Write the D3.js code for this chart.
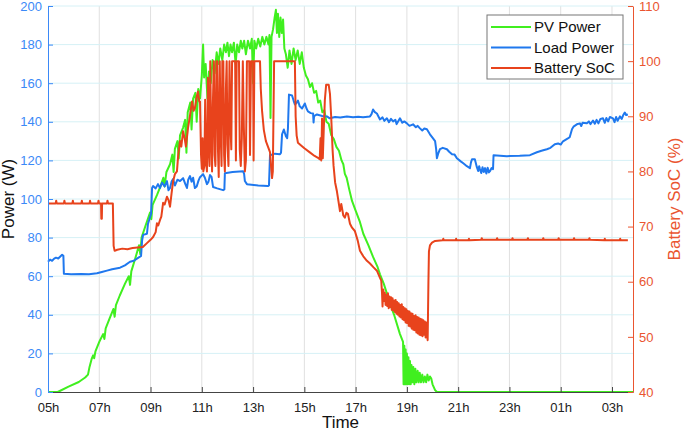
<!DOCTYPE html>
<html>
<head>
<meta charset="utf-8">
<script src="https://cdn.jsdelivr.net/npm/d3@7"></script>
<style>
  body { margin: 0; background: #fff; }
  svg { font-family: 'Liberation Sans', Arial, sans-serif; }
</style>
</head>
<body>
<div id="chart"></div>
<script>
// time is in hours from midnight, past 24 = next morning
const hourTicks = [5, 7, 9, 11, 13, 15, 17, 19, 21, 23, 25, 27]
const powerTicks = [0, 20, 40, 60, 80, 100, 120, 140, 160, 180, 200]
const socTicks = [40, 50, 60, 70, 80, 90, 100, 110]

const pvPower = [
  [5.0,0],[5.38,0],[5.8,2.8],[6.2,5.2],[6.45,7.5],[6.56,9],[6.62,13],[6.7,17],[6.76,19],[6.8,17.5],[6.85,21],
  [7.0,26],[7.15,30],[7.2,27.5],[7.25,33],[7.4,38],[7.55,43],[7.6,39],[7.65,45],[7.8,50],[8.0,56],[8.15,60],
  [8.2,55.5],[8.25,62.5],[8.4,69],[8.55,76],[8.6,71.5],[8.65,80],[8.8,86],[8.98,93],[9.03,89.5],[9.08,97],
  [9.25,102],[9.37,106],[9.5,111],[9.55,106.5],[9.62,114],[9.76,118],[9.85,123],[9.9,114],[9.95,126],[10.05,130],
  [10.1,121],[10.15,133],[10.27,137],[10.35,141],[10.4,124],[10.45,145],[10.55,150],[10.6,136],[10.66,152],
  [10.75,155],[10.8,140],[10.86,157],[10.93,152],[11.0,164],[11.05,180],[11.09,163],[11.15,170],[11.22,152],
  [11.28,166],[11.35,160],[11.42,172],[11.5,165],[11.58,176],[11.65,170],[11.72,178],[11.8,172],[11.87,180],
  [11.94,176],[12.0,181],[12.06,174],[12.12,180],[12.18,176],[12.25,181],[12.32,170],[12.38,180],[12.45,176],
  [12.52,182],[12.58,178],[12.65,182],[12.72,175],[12.8,182],[12.88,178],[12.95,183],[13.0,160],[13.05,182],
  [13.12,178],[13.2,183],[13.28,179],[13.36,184],[13.44,180],[13.52,184],[13.6,180],[13.64,185],[13.68,142],
  [13.72,184],[13.78,188],[13.84,194],[13.89,198],[13.93,186],[13.97,196],[14.02,184],[14.07,194],[14.12,186],
  [14.17,193],[14.22,178],[14.28,175],[14.35,168],[14.42,177],[14.5,170],[14.58,178],[14.66,172],[14.74,177],
  [14.82,170],[14.9,176],[14.98,168],[15.06,164],[15.14,162],[15.22,158],[15.3,160],[15.38,155],[15.46,156],
  [15.54,150],[15.62,151],[15.7,145],[15.78,146],[15.86,140],[15.95,139],[16.05,133],[16.15,131],[16.25,127],
  [16.35,125],[16.45,120],[16.52,118],[16.58,113],[16.65,111],[16.75,105],[16.86,99],[17.0,94],[17.17,88],
  [17.3,82],[17.5,76],[17.68,70],[17.85,65],[17.95,61],[18.1,56],[18.34,46],[18.5,40],[18.73,30],[18.85,26],
  [18.87,4],[18.9,24],[18.92,4],[18.95,22],[18.97,4],[19.0,20],[19.03,4],[19.06,18],[19.09,4],[19.12,16],
  [19.15,4],[19.18,14],[19.21,5],[19.25,13],[19.29,4],[19.33,12],[19.37,5],[19.42,11],[19.46,5],[19.5,10],
  [19.55,5],[19.6,9],[19.65,5],[19.7,8],[19.75,5],[19.8,9],[19.85,6],[19.9,8],[19.95,7],[20.0,4],[20.1,1],
  [20.17,0],[27.82,0]
]

const loadPower = [
  [5.0,67.5],[5.08,68.6],[5.16,68],[5.24,69.1],[5.31,69.6],[5.4,69.2],[5.47,70.1],[5.55,71.1],[5.6,70.6],
  [5.62,61.3],[5.9,61],[6.3,61.2],[6.6,61],[6.91,61.5],[7.1,62.2],[7.3,62.9],[7.5,63.6],[7.81,64.4],[8.0,65.6],
  [8.2,67.5],[8.35,68],[8.47,69.1],[8.59,70.1],[8.63,70.5],[8.67,78.4],[8.71,81.4],[8.86,82],[8.9,87.1],
  [8.98,90.7],[9.02,92.3],[9.06,105.7],[9.1,106.7],[9.2,105.5],[9.29,107.7],[9.37,105.7],[9.45,108.5],
  [9.55,106.5],[9.64,109.3],[9.7,104.5],[9.76,105.7],[9.82,109],[9.88,110.3],[9.95,107],[10.05,110],
  [10.15,109.3],[10.27,110.8],[10.35,108],[10.42,105.7],[10.47,110],[10.54,111.9],[10.6,109],[10.66,111],
  [10.73,105.7],[10.8,106.5],[10.87,109.5],[10.93,111.3],[11.05,112.9],[11.12,111],[11.2,107.7],[11.26,109],
  [11.32,112.4],[11.38,111.5],[11.44,106.2],[11.6,105.5],[11.83,104.6],[11.88,105],[11.9,113.4],[12.2,114],
  [12.61,114.4],[12.65,113],[12.68,109.3],[12.76,107.7],[13.2,107],[13.58,106.7],[13.62,107],[13.66,122.7],
  [13.85,123.5],[14.05,123.2],[14.09,124],[14.13,133.5],[14.2,136],[14.28,132.5],[14.33,131.5],[14.36,136.6],
  [14.4,154.1],[14.52,153.6],[14.58,151],[14.63,149],[14.68,149.5],[14.75,151],[14.82,148],[14.91,146.9],
  [15.02,149.5],[15.08,147],[15.14,145.4],[15.25,144.5],[15.34,144.3],[15.36,139.7],[15.38,143],[15.49,143.8],
  [15.7,143],[15.88,142.8],[15.99,141.8],[16.2,142.5],[16.4,142.2],[16.66,142.8],[16.9,142.3],[17.1,142.6],
  [17.29,142.3],[17.56,142.8],[17.62,144],[17.68,146.4],[17.75,145],[17.83,144.3],[17.9,142.5],[17.95,141.2],
  [18.05,142.3],[18.12,140.5],[18.22,141.8],[18.3,139.8],[18.38,141.5],[18.46,140.2],[18.55,141],[18.6,138.8],
  [18.73,141.8],[18.82,139.5],[18.9,140.2],[19.0,139.2],[19.1,137.9],[19.24,138.7],[19.35,137.2],[19.42,137.9],
  [19.51,136.6],[19.6,135.5],[19.68,136.5],[19.78,136.1],[19.9,133.5],[20.02,131.4],[20.1,130],[20.14,126],
  [20.17,121.1],[20.22,123.5],[20.29,125.8],[20.4,126.5],[20.56,125.8],[20.65,124.5],[20.76,123.2],[20.86,123],
  [20.95,121.1],[21.1,119.5],[21.2,118.5],[21.34,117],[21.46,116],[21.5,119],[21.54,120.6],[21.65,120.6],
  [21.7,118],[21.73,116.5],[21.78,114.5],[21.82,117],[21.85,115.5],[21.9,113.5],[21.95,116.5],[22.0,114],
  [22.05,116],[22.1,113.2],[22.15,116.2],[22.2,113.8],[22.24,114.4],[22.3,116],[22.36,115.5],[22.38,122.7],
  [22.9,122.2],[23.4,122.4],[23.8,122.7],[24.07,124.2],[24.25,125],[24.46,125.8],[24.6,126.5],[24.77,128.4],
  [24.9,128.8],[25.0,128.2],[25.09,129.9],[25.28,131.4],[25.35,132],[25.44,136.1],[25.5,137.5],[25.63,138.7],
  [25.75,139.2],[25.8,137.8],[25.85,139.5],[26.02,139.2],[26.1,140.2],[26.16,138.8],[26.26,140.7],[26.33,139],
  [26.4,141],[26.47,139.2],[26.55,141.5],[26.65,141.8],[26.72,139.5],[26.78,142],[26.85,140.2],[26.92,142.5],
  [27.04,141.8],[27.1,139.8],[27.16,142.5],[27.22,140.5],[27.31,142.8],[27.38,141.5],[27.44,143.5],[27.5,144.8],
  [27.55,143.5],[27.62,143.8]
]

const batterySoc = [
  [5.0,74.2],[5.3,74.2],[5.32,74.7],[5.34,74.2],[5.62,74.2],[5.64,74.7],[5.66,74.2],[5.95,74.2],[5.97,74.7],
  [5.99,74.2],[6.3,74.2],[6.32,74.7],[6.34,74.2],[6.62,74.2],[6.64,74.7],[6.66,74.2],[6.95,74.2],[6.97,74.7],
  [6.99,74.2],[7.07,74.2],[7.08,71.4],[7.1,71.4],[7.11,74.2],[7.3,74.2],[7.32,74.7],[7.34,74.2],[7.53,74.2],
  [7.56,66.5],[7.6,65.6],[7.7,65.8],[7.9,66],[8.1,65.9],[8.3,66.1],[8.5,66.2],[8.7,66.3],[8.86,67],[9.0,67.6],
  [9.1,68.1],[9.2,69],[9.25,70.6],[9.3,70.2],[9.37,71.2],[9.42,71.8],[9.49,74.3],[9.55,74],[9.64,75.4],
  [9.7,74.8],[9.76,73.6],[9.82,76],[9.88,78.2],[9.95,79.5],[10.03,80],[10.08,83],[10.15,85.5],[10.2,84.5],
  [10.27,87.3],[10.33,86],[10.38,84.5],[10.46,87.8],[10.55,90.5],[10.62,92.7],[10.68,91],[10.73,91.5],
  [10.8,93.5],[10.85,94.5],[10.9,92.7],
  [10.93,92.7],[10.97,83],[11.0,80.5],[11.03,86],[11.06,80],[11.1,81],[11.13,93],[11.16,82],[11.2,80],
  [11.24,97],[11.27,84],[11.3,81],[11.33,100],[11.36,88],[11.4,80],[11.43,92],[11.47,100],[11.5,83],[11.53,81],
  [11.57,100],[11.6,100],[11.63,84],[11.66,79],[11.7,100],[11.74,86],[11.77,81],[11.8,100],[11.84,100],
  [11.87,83],[11.9,80],[11.94,95],[11.97,100],[12.0,85],[12.04,81],[12.08,100],[12.12,88],[12.15,84],
  [12.18,100],[12.3,100],[12.33,82],[12.36,100],[12.45,100],[12.48,84],[12.52,81],[12.56,86],[12.6,100],
  [12.64,88],[12.68,80],[12.72,82],[12.76,100],[12.85,100],[12.88,83],[12.92,100],[13.0,100],[13.02,82],
  [13.05,100],[13.27,100],[13.3,95],[13.35,91],[13.42,87.5],[13.5,85.5],[13.58,84.5],[13.66,83.5],[13.7,81],
  [13.74,78.8],[13.77,80],[13.8,92],[13.82,100],[14.63,100],[14.66,90],[14.7,86.5],[14.75,85.2],[14.85,84.8],
  [15.0,84.2],[15.2,83.5],[15.4,82.8],[15.55,82.4],[15.6,82.2],[15.63,86],[15.66,82],[15.69,89.6],[15.72,82.4],
  [15.76,88],[15.8,93],[15.85,95.7],[15.95,95.7],[16.0,94],[16.05,89.6],[16.1,84],[16.14,81],[16.2,78],
  [16.27,76.4],[16.33,74.6],[16.39,72.8],[16.44,74.1],[16.52,72],[16.58,71.6],[16.64,72.5],[16.7,72.3],
  [16.78,70.5],[16.86,69.8],[16.97,69.2],[17.08,67.5],[17.17,65.6],[17.3,64.6],[17.44,63.8],[17.56,63.3],
  [17.7,62.6],[17.83,62],[17.95,60.7],[18.0,60.2],
  [18.03,57.9],[18.05,55.5],[18.08,58.6],[18.11,56.5],[18.14,58.0],[18.17,55.8],[18.2,57.6],[18.23,55.6],
  [18.26,57.9],[18.29,55.2],[18.32,57.3],[18.35,55.4],[18.38,57.2],[18.41,54.9],[18.44,57.0],[18.47,54.8],
  [18.5,56.6],[18.53,54.5],[18.56,56.7],[18.59,54.2],[18.62,56.3],[18.65,54.0],[18.68,56.1],[18.71,53.7],
  [18.74,55.8],[18.77,53.5],[18.8,55.9],[18.83,53.2],[18.86,55.4],[18.89,53.0],[18.92,55.2],[18.95,52.6],
  [18.98,55.0],[19.01,52.5],[19.04,54.7],[19.07,52.0],[19.1,54.6],[19.13,51.9],[19.16,54.3],[19.19,51.5],
  [19.22,54.2],[19.25,51.3],[19.28,53.8],[19.31,51.2],[19.34,53.9],[19.37,50.8],[19.4,53.6],[19.43,50.6],
  [19.46,53.5],[19.49,50.4],[19.52,53.3],[19.55,50.3],[19.58,53.2],[19.61,50.1],[19.64,53.0],[19.67,50.4],
  [19.7,52.8],[19.73,49.9],[19.76,52.6],[19.79,50.2],[19.81,49.4],[19.84,60],[19.86,65.5],[19.9,66.6],
  [19.98,67.1],[20.1,67.4],[20.4,67.5],[20.42,67.8],[20.44,67.5],[20.9,67.5],[20.92,67.8],[20.94,67.5],
  [21.4,67.5],[21.42,67.8],[21.44,67.5],[21.9,67.6],[21.92,67.9],[21.94,67.6],[22.5,67.6],[22.52,67.9],
  [22.54,67.6],[23.1,67.6],[23.12,67.9],[23.14,67.6],[23.7,67.6],[23.72,67.9],[23.74,67.6],[24.3,67.6],
  [24.32,67.9],[24.34,67.6],[24.9,67.6],[24.92,67.9],[24.94,67.6],[25.5,67.6],[25.52,67.9],[25.54,67.6],
  [26.1,67.6],[26.12,67.9],[26.14,67.6],[26.7,67.5],[26.72,67.8],[26.74,67.5],[27.3,67.5],[27.32,67.8],
  [27.34,67.5],[27.62,67.5]
]

const series = [
  { name: 'PV Power', color: '#40ef1f' },
  { name: 'Load Power', color: '#1f78ee' },
  { name: 'Battery SoC', color: '#e8431c' }
]

const margin = { top: 6, right: 52, bottom: 40, left: 48 }
const width = 685 - margin.left - margin.right
const height = 432 - margin.top - margin.bottom

const powerColor = '#3b89f7'
const socColor = '#ea5530'

const svg = d3
  .select('#chart')
  .append('svg')
  .attr('width', 685)
  .attr('height', 432)
  .append('g')
  .attr('transform', 'translate(' + margin.left + ',' + margin.top + ')')

const xPositionScale = d3.scaleLinear().domain([5, 27.82]).range([0, width])
const yPowerScale = d3.scaleLinear().domain([0, 200]).range([height, 0])
const ySocScale = d3.scaleLinear().domain([40, 110]).range([height, 0])

// grid
svg.append('g')
  .selectAll('line')
  .data(hourTicks.slice(1))
  .enter()
  .append('line')
  .attr('x1', d => xPositionScale(d))
  .attr('x2', d => xPositionScale(d))
  .attr('y1', 0)
  .attr('y2', height)
  .attr('stroke', '#e0e0e0')
  .attr('stroke-width', 1)

svg.append('g')
  .selectAll('line')
  .data(powerTicks.slice(1))
  .enter()
  .append('line')
  .attr('x1', 0)
  .attr('x2', width)
  .attr('y1', d => yPowerScale(d))
  .attr('y2', d => yPowerScale(d))
  .attr('stroke', '#d6f1f6')
  .attr('stroke-width', 1)

// lines
const powerLine = d3.line()
  .x(d => xPositionScale(d[0]))
  .y(d => yPowerScale(d[1]))

const socLine = d3.line()
  .x(d => xPositionScale(d[0]))
  .y(d => ySocScale(d[1]))

svg.append('path')
  .datum(pvPower)
  .attr('d', powerLine)
  .attr('fill', 'none')
  .attr('stroke', series[0].color)
  .attr('stroke-width', 2)
  .attr('stroke-linejoin', 'round')

svg.append('path')
  .datum(loadPower)
  .attr('d', powerLine)
  .attr('fill', 'none')
  .attr('stroke', series[1].color)
  .attr('stroke-width', 2)
  .attr('stroke-linejoin', 'round')

svg.append('path')
  .datum(batterySoc)
  .attr('d', socLine)
  .attr('fill', 'none')
  .attr('stroke', series[2].color)
  .attr('stroke-width', 2)
  .attr('stroke-linejoin', 'round')

// axes
const xAxis = d3.axisBottom(xPositionScale)
  .tickValues(hourTicks)
  .tickFormat(d => d3.format('02')(d % 24) + 'h')
  .tickSizeInner(-5)
  .tickSizeOuter(0)
  .tickPadding(11)

const xg = svg.append('g')
  .attr('class', 'axis x-axis')
  .attr('transform', 'translate(0,' + height + ')')
  .call(xAxis)
xg.select('.domain').attr('stroke', '#444')
xg.selectAll('line').attr('stroke', '#444')
xg.selectAll('text').attr('font-size', 13).attr('fill', '#222')

const yAxis = d3.axisLeft(yPowerScale)
  .tickValues(powerTicks)
  .tickSizeInner(-5)
  .tickSizeOuter(0)
  .tickPadding(6)

const yg = svg.append('g')
  .attr('class', 'axis y-axis')
  .call(yAxis)
yg.select('.domain').attr('stroke', powerColor)
yg.selectAll('line').attr('stroke', powerColor)
yg.selectAll('text').attr('font-size', 13).attr('fill', powerColor)

const socAxis = d3.axisRight(ySocScale)
  .tickValues(socTicks)
  .tickSizeInner(-5)
  .tickSizeOuter(0)
  .tickPadding(6)

const sg = svg.append('g')
  .attr('class', 'axis soc-axis')
  .attr('transform', 'translate(' + width + ',0)')
  .call(socAxis)
sg.select('.domain').attr('stroke', socColor)
sg.selectAll('line').attr('stroke', socColor)
sg.selectAll('text').attr('font-size', 13).attr('fill', socColor)

// titles
svg.append('text')
  .attr('text-anchor', 'middle')
  .attr('font-size', 17)
  .attr('fill', '#111')
  .attr('x', width / 2)
  .attr('y', height + 36)
  .text('Time')

svg.append('text')
  .attr('text-anchor', 'middle')
  .attr('font-size', 17)
  .attr('fill', '#111')
  .attr('transform', 'translate(' + (14 - margin.left) + ',' + (height / 2) + ') rotate(-90)')
  .text('Power (W)')

svg.append('text')
  .attr('text-anchor', 'middle')
  .attr('font-size', 17)
  .attr('fill', socColor)
  .attr('transform', 'translate(' + (width + 47) + ',' + (height / 2) + ') rotate(-90)')
  .text('Battery SoC (%)')

// legend
const legend = svg.append('g')
  .attr('transform', 'translate(' + (487 - margin.left) + ',' + (15 - margin.top) + ')')

legend.append('rect')
  .attr('width', 136)
  .attr('height', 64)
  .attr('fill', '#fff')
  .attr('stroke', '#777')
  .attr('stroke-width', 1)

legend.selectAll('.entry')
  .data(series)
  .enter()
  .append('line')
  .attr('x1', 4)
  .attr('x2', 44)
  .attr('y1', (d, i) => 12 + i * 20.5)
  .attr('y2', (d, i) => 12 + i * 20.5)
  .attr('stroke', d => d.color)
  .attr('stroke-width', 2)

legend.selectAll('.label')
  .data(series)
  .enter()
  .append('text')
  .attr('x', 47)
  .attr('y', (d, i) => 12 + i * 20.5)
  .attr('dy', '0.35em')
  .attr('font-size', 15)
  .attr('fill', '#111')
  .text(d => d.name)
</script>
</body>
</html>
